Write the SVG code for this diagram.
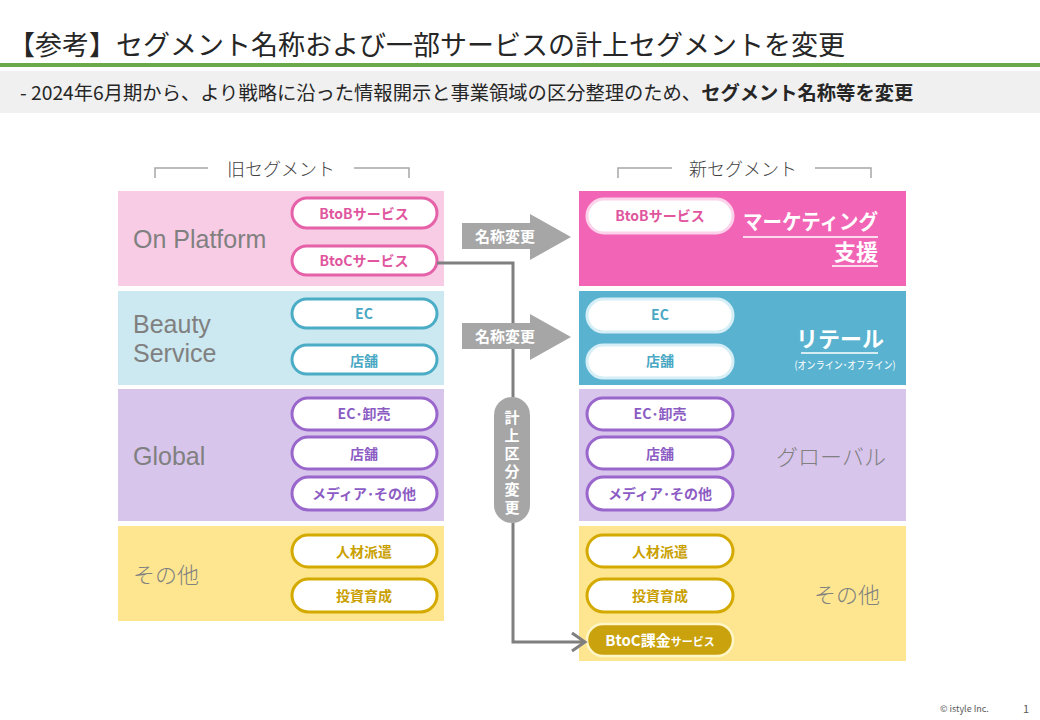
<svg xmlns="http://www.w3.org/2000/svg" width="1040" height="720" viewBox="0 0 1040 720">
<style>
text{font-family:"Noto Sans CJK JP","Noto Sans",sans-serif}
.hd{font-size:18px;fill:#404040;text-anchor:middle;font-weight:300}
.brk{fill:none;stroke:#a6a6a6;stroke-width:1.5}
.seg{font-family:"Liberation Sans",Arial,sans-serif;font-size:25px;fill:#808080}
.segj{font-size:22px;fill:#808080;font-weight:300}
.pill{fill:#fff;stroke-width:3}
.pt{font-size:14px;font-weight:bold;text-anchor:middle}
.pk{stroke:#e561a8}.pkt{fill:#e0559e}
.bl{stroke:#4bacc6}.blt{fill:#4aa8c4}
.pu{stroke:#9966cc}.put{fill:#8c5cc4}
.gd{stroke:#d4aa00}.gdt{fill:#c9a000}
.conn{fill:none;stroke:#7f7f7f;stroke-width:3}
.blk{fill:#a6a6a6}
.wl{font-weight:bold;fill:#fff}
.at{font-size:15px;font-weight:bold;fill:#fff;text-anchor:middle}
</style>
<rect width="1040" height="720" fill="#fff"/>
<g id="title">
<text x="8" y="55" font-size="27" fill="#262626">【参考】セグメント名称および一部サービスの計上セグメントを変更</text>
<rect x="0" y="63" width="1040" height="4" fill="#6aaa4a"/>
<rect x="0" y="71" width="1040" height="42" fill="#f0f0f0"/>
<text x="20" y="100" font-size="19.3" fill="#262626">-  2024年6月期から、より戦略に沿った情報開示と事業領域の区分整理のため、<tspan font-weight="bold">セグメント名称等を変更</tspan></text>
</g>
<g id="hdr-old">
<path class="brk" d="M155,178V168H208M354,168H409V178"/>
<text class="hd" x="281" y="176">旧セグメント</text>
</g>
<g id="hdr-new">
<path class="brk" d="M618,178V168H672M815,168H871V178"/>
<text class="hd" x="743" y="176">新セグメント</text>
</g>
<g id="old-onplatform">
<rect x="118" y="191" width="326" height="95" fill="#f9cce6"/>
<text class="seg" x="133" y="248">On Platform</text>
<rect class="pill pk" x="292" y="198" width="145" height="30" rx="15"/>
<text class="pt pkt" x="364" y="219">BtoBサービス</text>
<rect class="pill pk" x="292" y="246" width="145" height="29" rx="14.5"/>
<text class="pt pkt" x="364" y="266">BtoCサービス</text>
</g>
<g id="old-beauty">
<rect x="118" y="291" width="326" height="94" fill="#cce8f0"/>
<text class="seg"><tspan x="133" y="333">Beauty</tspan><tspan x="133" y="362">Service</tspan></text>
<rect class="pill bl" x="292" y="299" width="145" height="29" rx="14.5"/>
<text class="pt blt" x="364" y="319">EC</text>
<rect class="pill bl" x="292" y="345" width="145" height="29" rx="14.5"/>
<text class="pt blt" x="364" y="366">店舗</text>
</g>
<g id="old-global">
<rect x="118" y="389" width="326" height="132" fill="#d8c5ec"/>
<text class="seg" x="133" y="465">Global</text>
<rect class="pill pu" x="292" y="398" width="145" height="32" rx="16"/>
<text class="pt put" x="364" y="419">EC･卸売</text>
<rect class="pill pu" x="292" y="437" width="145" height="32" rx="16"/>
<text class="pt put" x="364" y="459">店舗</text>
<rect class="pill pu" x="292" y="477" width="145" height="33" rx="16.5"/>
<text class="pt put" x="364" y="499">メディア･その他</text>
</g>
<g id="old-other">
<rect x="118" y="526" width="326" height="95" fill="#fde68f"/>
<text class="segj" x="133" y="583">その他</text>
<rect class="pill gd" x="292" y="535" width="145" height="32" rx="16"/>
<text class="pt gdt" x="364" y="557">人材派遣</text>
<rect class="pill gd" x="292" y="579" width="145" height="33" rx="16.5"/>
<text class="pt gdt" x="364" y="601">投資育成</text>
</g>
<g id="new-marketing">
<rect x="579" y="191" width="327" height="95" fill="#f264b5"/>
<rect class="pill" x="587" y="199" width="146" height="34" rx="17" stroke="#fcd3ea"/>
<text class="pt pkt" x="660" y="221">BtoBサービス</text>
<text class="wl" x="878" y="229" font-size="21" text-anchor="end" textLength="135" lengthAdjust="spacingAndGlyphs">マーケティング</text>
<text class="wl" x="878" y="260" font-size="22" text-anchor="end">支援</text>
<path d="M743,237H878M832,266H878" stroke="#fff" stroke-width="1.5"/>
</g>
<g id="new-retail">
<rect x="579" y="291" width="327" height="94" fill="#59b2cf"/>
<rect class="pill" x="587" y="299" width="146" height="33" rx="16.5" stroke="#d6eef6"/>
<text class="pt blt" x="660" y="320">EC</text>
<rect class="pill" x="587" y="345" width="146" height="33" rx="16.5" stroke="#d6eef6"/>
<text class="pt blt" x="660" y="366">店舗</text>
<text class="wl" x="840" y="347" font-size="22" text-anchor="middle">リテール</text>
<path d="M801,353H878" stroke="#fff" stroke-width="1.5"/>
<text x="845" y="369" font-size="10.5" fill="#fff" text-anchor="middle" textLength="101" lengthAdjust="spacingAndGlyphs">(オンライン･オフライン)</text>
</g>
<g id="new-global">
<rect x="579" y="389" width="327" height="132" fill="#d8c5ec"/>
<rect class="pill pu" x="587" y="398" width="146" height="32" rx="16"/>
<text class="pt put" x="660" y="419">EC･卸売</text>
<rect class="pill pu" x="587" y="437" width="146" height="32" rx="16"/>
<text class="pt put" x="660" y="459">店舗</text>
<rect class="pill pu" x="587" y="477" width="146" height="33" rx="16.5"/>
<text class="pt put" x="660" y="499">メディア･その他</text>
<text class="segj" x="831" y="465" text-anchor="middle">グローバル</text>
</g>
<g id="new-other">
<rect x="579" y="526" width="327" height="135" fill="#fde68f"/>
<rect class="pill gd" x="587" y="535" width="146" height="32" rx="16"/>
<text class="pt gdt" x="660" y="557">人材派遣</text>
<rect class="pill gd" x="587" y="579" width="146" height="33" rx="16.5"/>
<text class="pt gdt" x="660" y="601">投資育成</text>
<rect x="587" y="624" width="146" height="32" rx="16" fill="#c9a20e" stroke="#fff6c8" stroke-width="2.5"/>
<text x="660" y="646" font-size="15" font-weight="bold" fill="#fff" text-anchor="middle">BtoC課金<tspan font-size="11">サービス</tspan></text>
<text class="segj" x="847" y="603" text-anchor="middle">その他</text>
</g>
<g id="connectors">
<path class="conn" d="M437,263H513V397M513,523V642H584"/>
<path class="conn" d="M572,633L585,642L572,651"/>
<path class="blk" d="M462,223H530V214L571,237L530,260V249H462Z"/>
<text class="at" x="505" y="242">名称変更</text>
<path class="blk" d="M462,323H530V314L571,337L530,360V349H462Z"/>
<text class="at" x="505" y="342">名称変更</text>
<rect class="blk" x="494" y="397" width="36" height="126" rx="18"/>
<text x="512" y="410" writing-mode="vertical-rl" font-size="15" letter-spacing="3" font-weight="bold" fill="#fff">計上区分変更</text>
</g>
<g id="footer">
<text x="940" y="712" font-size="9" fill="#595959" font-family="Liberation Sans,sans-serif">©  istyle Inc.</text>
<text x="1023" y="713" font-size="11" fill="#595959" font-family="Liberation Sans,sans-serif">1</text>
</g>
</svg>
